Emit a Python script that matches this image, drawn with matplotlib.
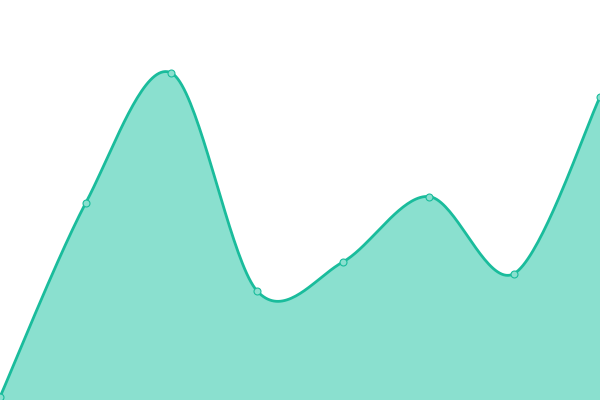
import numpy as np
import matplotlib
matplotlib.use("Agg")
import matplotlib.pyplot as plt

# data
x_vals = [0, 1, 2, 3, 4, 5, 6, 7]
y_vals = [3, 197, 327, 109, 138, 203.5, 126.5, 303]

LINE = "#1abc9c"
FILL = "#8ae0cf"


def smooth(xs, ys, k=0.16, n=40):
    xs = np.asarray(xs, float)
    ys = np.asarray(ys, float)
    px, py = [], []
    m = len(xs)
    for i in range(m - 1):
        i0 = max(i - 1, 0)
        i3 = min(i + 2, m - 1)
        p0 = np.array([xs[i0], ys[i0]])
        p1 = np.array([xs[i], ys[i]])
        p2 = np.array([xs[i + 1], ys[i + 1]])
        p3 = np.array([xs[i3], ys[i3]])
        c1 = p1 + (p2 - p0) * k
        c2 = p2 - (p3 - p1) * k
        t = np.linspace(0, 1, n, endpoint=(i == m - 2))
        b = ((1 - t) ** 3)[:, None] * p1 + (3 * (1 - t) ** 2 * t)[:, None] * c1 \
            + (3 * (1 - t) * t ** 2)[:, None] * c2 + (t ** 3)[:, None] * p2
        px.extend(b[:, 0])
        py.extend(b[:, 1])
    return np.array(px), np.array(py)


sx, sy = smooth(x_vals, y_vals)

fig = plt.figure(figsize=(6, 4), dpi=100)
ax = fig.add_axes([0, 0, 1, 1])
ax.fill_between(sx, sy, 0, color=FILL, linewidth=0, zorder=1)
ax.plot(sx, sy, color=LINE, linewidth=2.0, zorder=2, solid_capstyle="round")
ax.plot(x_vals, y_vals, linestyle="none", marker="o", markersize=5,
        markerfacecolor=FILL, markeredgecolor=LINE, markeredgewidth=0.8, zorder=3)
ax.set_xlim(0, 7)
ax.set_ylim(0, 400)
ax.axis("off")
fig.savefig("out.png", dpi=100)
